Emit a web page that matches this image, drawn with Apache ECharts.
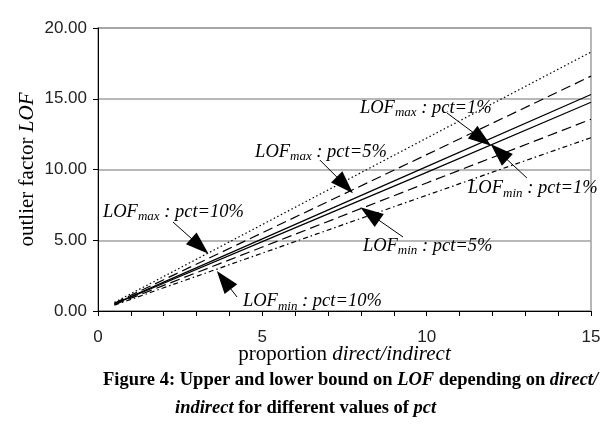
<!DOCTYPE html>
<html>
<head>
<meta charset="utf-8">
<script src="https://cdn.jsdelivr.net/npm/echarts@6/dist/echarts.min.js"></script>
<style>
  html, body { margin: 0; padding: 0; background: #fff; }
  #chart { width: 616px; height: 434px; }
</style>
</head>
<body>
<div id="chart"></div>
<script>
// proportion direct/indirect (x) and LOF bounds
const ratio = [0.5, 1, 2, 5, 10, 15];
const max10 = [0.61, 1.22, 2.44, 6.11, 12.22, 18.30];
const max5  = [0.55, 1.11, 2.21, 5.53, 11.05, 16.60];
const max1  = [0.51, 1.02, 2.04, 5.10, 10.20, 15.30];
const min1  = [0.49, 0.98, 1.96, 4.90, 9.80, 14.75];
const min5  = [0.45, 0.90, 1.81, 4.52, 9.05, 13.55];
const min10 = [0.41, 0.82, 1.64, 4.09, 8.18, 12.25];

const yTicks = [0, 5, 10, 15, 20];

// annotations: label text, label anchor, arrow start, arrow head
const noteText = [
  ['max', '1%'], ['min', '1%'], ['max', '5%'],
  ['min', '5%'], ['max', '10%'], ['min', '10%']
];
const noteAt = [[7.97, 14.35], [11.26, 8.68], [4.78, 11.24], [8.06, 4.60], [0.15, 7.0], [4.41, 0.68]];
const arrowFrom = [[10.62, 13.99], [13.05, 9.40], [6.75, 10.67], [9.28, 5.23], [2.28, 6.29], [4.23, 0.99]];
const arrowTo = [[11.68, 12.16], [12.20, 11.24], [7.51, 8.90], [8.27, 6.86], [3.10, 4.59], [3.83, 2.19]];

const serif = 'Liberation Serif';
const sans = 'Liberation Sans';

function pts(ys) {
  return ratio.map((x, i) => [x, ys[i]]);
}

function lineSeries(name, ys, dash) {
  return {
    name: name,
    type: 'line',
    data: pts(ys),
    showSymbol: false,
    silent: true,
    lineStyle: { color: '#000', width: 1.2, type: dash },
    z: 3
  };
}

const chart = echarts.init(document.getElementById('chart'));

const option = {
  backgroundColor: '#fff',
  animation: false,
  grid: {
    left: 98, right: 25, top: 28, bottom: 123,
    show: true, borderColor: '#a0a0a0', borderWidth: 1.5
  },
  xAxis: {
    type: 'value',
    min: 0, max: 15, interval: 5,
    name: 'proportion {i|direct/indirect}',
    nameLocation: 'middle',
    nameGap: 33,
    nameMoveOverlap: false,
    nameTextStyle: {
      fontFamily: serif, fontSize: 21, color: '#000',
      rich: { i: { fontFamily: serif, fontSize: 21, fontStyle: 'italic', color: '#000' } }
    },
    axisLine: { lineStyle: { color: '#000', width: 1 } },
    axisTick: { length: 5, lineStyle: { color: '#000' } },
    minorTick: { show: true, splitNumber: 5, length: 5, lineStyle: { color: '#000' } },
    splitLine: { show: false },
    axisLabel: { fontFamily: sans, fontSize: 17, color: '#222', margin: 18 }
  },
  yAxis: {
    type: 'value',
    min: yTicks[0], max: yTicks[yTicks.length - 1], interval: 5,
    name: 'outlier factor {i|LOF}',
    nameLocation: 'middle',
    nameGap: 60,
    nameMoveOverlap: false,
    nameTextStyle: {
      fontFamily: serif, fontSize: 21, color: '#000',
      rich: { i: { fontFamily: serif, fontSize: 21, fontStyle: 'italic', color: '#000' } }
    },
    axisLine: { show: true, lineStyle: { color: '#000', width: 1 } },
    axisTick: { show: true, length: 5, lineStyle: { color: '#000' } },
    splitLine: { lineStyle: { color: '#a0a0a0', width: 1.5 } },
    axisLabel: {
      fontFamily: sans, fontSize: 17, color: '#222', margin: 11,
      formatter: v => v.toFixed(2)
    }
  },
  series: [
    lineSeries('max10', max10, [1.5, 2.5]),
    lineSeries('max5', max5, [10, 5]),
    lineSeries('max1', max1, 'solid'),
    lineSeries('min1', min1, 'solid'),
    lineSeries('min5', min5, [10, 5]),
    lineSeries('min10', min10, [5, 3, 1.5, 3]),
    {
      name: 'notes',
      type: 'line',
      data: [],
      silent: true,
      markLine: {
        silent: true,
        animation: false,
        symbol: ['none', 'triangle'],
        symbolSize: 17,
        lineStyle: { color: '#000', width: 1, type: 'solid' },
        itemStyle: { color: '#000' },
        label: { show: false },
        data: arrowFrom.map((p, i) => [
          { coord: p },
          { coord: arrowTo[i], symbolSize: [16, 23] }
        ])
      },
      markPoint: {
        silent: true,
        animation: false,
        symbol: 'circle',
        symbolSize: 0,
        label: {
          show: true,
          position: 'inside',
          align: 'left',
          verticalAlign: 'middle',
          formatter: p => '{i|LOF}{s|' + noteText[p.dataIndex][0] + '}{i| : pct=' + noteText[p.dataIndex][1] + '}',
          rich: {
            i: { fontFamily: serif, fontStyle: 'italic', fontSize: 18.5, color: '#000' },
            s: { fontFamily: serif, fontStyle: 'italic', fontSize: 13, color: '#000', padding: [10, 0, 0, 0] }
          }
        },
        data: noteAt.map(p => ({ coord: p }))
      }
    }
  ],
  graphic: [
    {
      type: 'text',
      left: 103,
      top: 371,
      style: {
        text: '{b|Figure 4: Upper and lower bound on }{bi|LOF}{b| depending on }{bi|direct/}',
        rich: {
          b: { fontFamily: serif, fontWeight: 'bold', fontSize: 18.5, fill: '#000' },
          bi: { fontFamily: serif, fontWeight: 'bold', fontStyle: 'italic', fontSize: 18.5, fill: '#000' }
        }
      }
    },
    {
      type: 'text',
      left: 175,
      top: 399,
      style: {
        text: '{bi|indirect}{b| for different values of }{bi|pct}',
        rich: {
          b: { fontFamily: serif, fontWeight: 'bold', fontSize: 18.5, fill: '#000' },
          bi: { fontFamily: serif, fontWeight: 'bold', fontStyle: 'italic', fontSize: 18.5, fill: '#000' }
        }
      }
    }
  ]
};

chart.setOption(option);
</script>
</body>
</html>
